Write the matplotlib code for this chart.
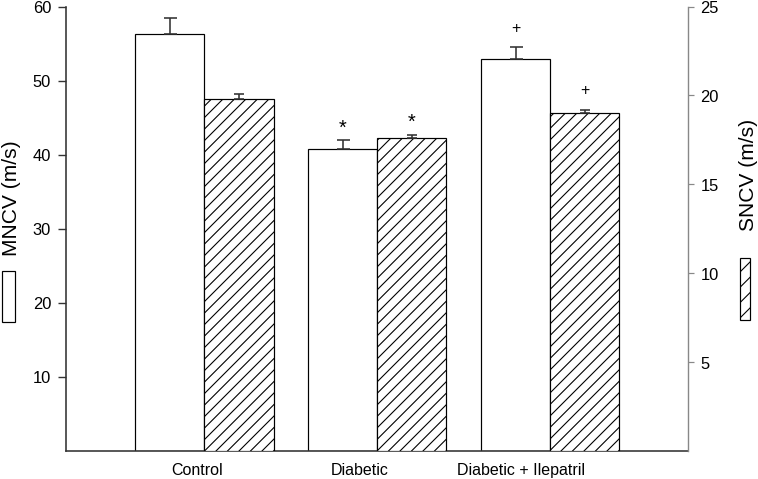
import numpy as np
import matplotlib
matplotlib.use("Agg")
import matplotlib.pyplot as plt
from matplotlib.patches import Rectangle

# dpi picked so that the hatch spacing comes out close to the original
DPI = 138
W, H = 758, 479


def px(n):
    # pixels -> points at this dpi
    return n * 72 / DPI


plt.rcParams['font.family'] = ['Liberation Sans', 'DejaVu Sans']
plt.rcParams['hatch.linewidth'] = px(1.1)

# data
groups = ['Control', 'Diabetic', 'Diabetic + Ilepatril']
mncv = [56.3, 40.8, 52.9]
mncv_err = [2.1, 1.2, 1.6]
sncv = [19.8, 17.6, 19.0]
sncv_err = [0.3, 0.2, 0.2]
mncv_marks = ['', '*', '+']
sncv_marks = ['', '*', '+']

# layout
bar_w = 0.4
label_x = [-0.04, 0.9, 1.83]
mark_offset = {'*': 7, '+': 15}
mark_size = {'*': 20, '+': 16}
dark = '#333333'
hatch = '////'

fig = plt.figure(figsize=((W + 0.5) / DPI, (H + 0.5) / DPI), dpi=DPI)
ax = fig.add_axes([66 / W, 28 / H, 622 / W, 444 / H])
ax2 = ax.twinx()

x = np.arange(len(groups))

ax.bar(x - bar_w / 2, mncv, bar_w, color='white', edgecolor='black',
       linewidth=px(1.2), zorder=2)
ax.errorbar(x - bar_w / 2, mncv, yerr=[[0] * len(mncv), mncv_err], fmt='none',
            ecolor=dark, elinewidth=px(1.6), capsize=px(6.5), capthick=px(1.6),
            zorder=3)

ax2.bar(x + bar_w / 2, sncv, bar_w, color='white', edgecolor='black',
        hatch=hatch, linewidth=px(1.2), zorder=2)
ax2.errorbar(x + bar_w / 2, sncv, yerr=[[0] * len(sncv), sncv_err], fmt='none',
             ecolor=dark, elinewidth=px(1.6), capsize=px(5), capthick=px(1.6),
             zorder=3)

for i, m in enumerate(mncv_marks):
    if m:
        ax.annotate(m, (x[i] - bar_w / 2, mncv[i] + mncv_err[i]),
                    xytext=(0, mark_offset[m]), textcoords='offset pixels',
                    ha='center', va='baseline', fontsize=px(mark_size[m]))
for i, m in enumerate(sncv_marks):
    if m:
        ax2.annotate(m, (x[i] + bar_w / 2, sncv[i] + sncv_err[i]),
                     xytext=(0, mark_offset[m]), textcoords='offset pixels',
                     ha='center', va='baseline', fontsize=px(mark_size[m]))

ax.set_xlim(-0.8, 2.8)
ax.set_ylim(0, 60)
ax2.set_ylim(0, 25)
ax.set_yticks([10, 20, 30, 40, 50, 60])
ax2.set_yticks([5, 10, 15, 20, 25])
ax.set_xticks(label_x)
ax.set_xticklabels(groups)

ax.tick_params(axis='y', direction='out', length=px(8), width=px(1.4),
               color=dark, pad=px(7), labelsize=px(16.5))
ax.tick_params(axis='x', length=0, pad=px(12), labelsize=px(16))
ax2.tick_params(axis='y', direction='out', length=px(6), width=px(1.2),
                color='#888888', pad=px(6), labelsize=px(16.5))

for s in ['top', 'right']:
    ax.spines[s].set_visible(False)
for s in ['top', 'left', 'bottom']:
    ax2.spines[s].set_visible(False)
for s in ['left', 'bottom']:
    ax.spines[s].set_color(dark)
    ax.spines[s].set_linewidth(px(1.6))
ax2.spines['right'].set_color('#888888')
ax2.spines['right'].set_linewidth(px(1.4))

# axis titles with their little legend swatches
fig.add_artist(Rectangle((2 / W, 1 - 322 / H), 13 / W, 51 / H,
                         transform=fig.transFigure, facecolor='white',
                         edgecolor='black', linewidth=px(1.2)))
fig.text(11 / W, 1 - 198 / H, 'MNCV (m/s)', rotation=90, ha='center',
         va='center', fontsize=px(21))
fig.add_artist(Rectangle((740 / W, 1 - 320 / H), 10 / W, 62 / H,
                         transform=fig.transFigure, facecolor='white',
                         edgecolor='black', hatch='///', linewidth=px(1.2)))
fig.text(748 / W, 1 - 175 / H, 'SNCV (m/s)', rotation=90, ha='center',
         va='center', fontsize=px(21))

fig.savefig('out.png', dpi=DPI)
